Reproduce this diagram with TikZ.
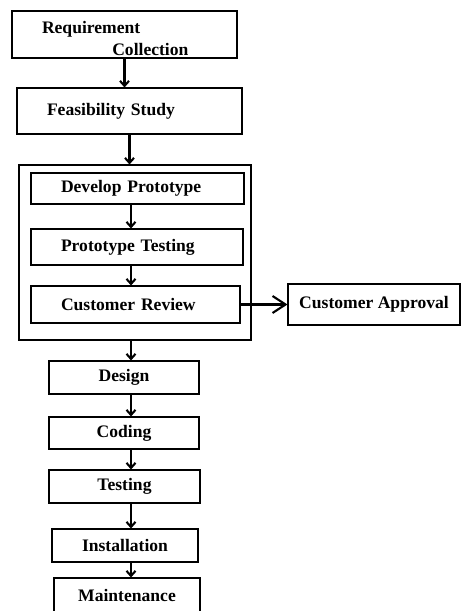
\documentclass[tikz,border=0pt]{standalone}
\usepackage{fontspec}
\setmainfont{Liberation Serif}
\usetikzlibrary{arrows.meta}
\usetikzlibrary{positioning}

\tikzset{
    stepbox/.style={draw, line width=0.6pt, font=\bfseries, inner sep=0pt},
    leftbox/.style={stepbox, align=left, inner xsep=0.6cm},
    flow/.style={line width=1.2pt, -{Straight Barb[length=1mm,width=1.8mm]}},
    bigflow/.style={line width=1.2pt, -{Straight Barb[length=2.6mm,width=3.4mm]}}
}

\begin{document}
\begin{tikzpicture}
        \useasboundingbox (0,0) rectangle (9.22,12.22);
        \coordinate (spine) at (2.62,0);

        \node[leftbox, text width=3.3cm, minimum height=0.94cm] (reqc) at (2.49,11.53) {\rule{0pt}{1.15em}Requirement\\\hspace*{4em}Collection};
        \node[leftbox, text width=3.3cm, minimum height=0.92cm] (feas) at (2.59,10.00) {Feasibility Study};

        \node[stepbox, minimum width=4.64cm, minimum height=3.5cm] (proto) at (2.70,7.17) {};
        \node[leftbox, text width=3.06cm, minimum height=0.62cm] (dev) at (2.75,8.45) {Develop Prototype};
        \node[leftbox, text width=3.04cm, minimum height=0.72cm] (ptest) at (2.74,7.28) {Prototype Testing};
        \node[leftbox, text width=2.98cm, minimum height=0.74cm] (crev) at (2.71,6.13) {Customer Review};
        \node[stepbox, minimum width=3.44cm, minimum height=0.82cm] (capp) at (7.48,6.13) {Customer Approval};

        \node[stepbox, minimum width=3.0cm, minimum height=0.66cm] (design) at (2.48,4.67) {Design};
        \node[stepbox, minimum width=3.0cm, minimum height=0.64cm] (coding) at (2.48,3.56) {Coding};
        \node[stepbox, minimum width=3.02cm, minimum height=0.66cm] (testing) at (2.49,2.49) {Testing};
        \node[stepbox, minimum width=2.92cm, minimum height=0.66cm] (install) at (2.50,1.31) {Installation};
        \node[stepbox, minimum width=2.92cm, minimum height=0.68cm] (maint) at (2.54,0.32) {Maintenance};

        \draw[flow] (reqc.south) -- (reqc.south |- feas.north);
        \draw[flow] (feas.south) -- (feas.south |- proto.north);
        \draw[flow] (dev.south -| spine) -- (ptest.north -| spine);
        \draw[flow] (ptest.south -| spine) -- (crev.north -| spine);
        \draw[bigflow] (crev.east) -- (capp.west);
        \draw[flow] (proto.south -| spine) -- (design.north -| spine);
        \foreach \a/\b in {design/coding, coding/testing, testing/install, install/maint}
        {
            \draw[flow] (\a.south -| spine) -- (\b.north -| spine);
        }
\end{tikzpicture}
\end{document}
